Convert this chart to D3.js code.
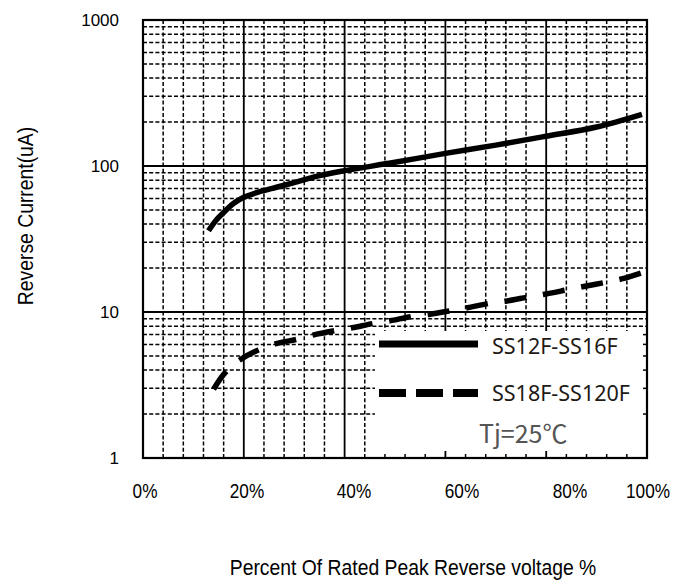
<!DOCTYPE html>
<html>
<head>
<meta charset="utf-8">
<script src="https://cdn.jsdelivr.net/npm/d3@7"></script>
<style>
    body { margin: 0; background: #fff; }
    svg { display: block; }
</style>
</head>
<body>
<svg id="chart" width="690" height="581"></svg>
<script>
// data
var xTicks = [0, 20, 40, 60, 80, 100];
var yTicks = [1, 10, 100, 1000];

// SS12F-SS16F (solid)
var solidX = [13, 14.5, 16, 18, 20, 23, 26.5, 30, 35, 40, 50, 60, 70, 80, 90, 99];
var solidY = [36, 42.5, 48, 55.5, 61, 66.5, 71.5, 77, 86, 93, 106, 122, 139, 160, 185, 226];

// SS18F-SS120F (dashed)
var dashedX = [14, 16.3, 19.2, 22.9, 26.2, 30.5, 33.7, 38.1, 41.5, 45.7, 49, 53.3, 57, 61, 65, 69, 72.2, 76.6, 80, 84.2, 87.7, 91.9, 95.4, 99.6];
var dashedY = [2.96, 3.84, 4.69, 5.5, 6.04, 6.5, 6.95, 7.45, 7.8, 8.35, 8.7, 9.3, 9.65, 10.2, 10.8, 11.5, 11.9, 12.7, 13.3, 14.2, 15, 16, 17, 18.9];

var seriesNames = ["SS12F-SS16F", "SS18F-SS120F"];
var noteText = "Tj=25\u2103";

// layout
var pLeft = 143, pRight = 647, pTop = 20, pBottom = 458;
var sans = "'Liberation Sans', Arial, sans-serif";

var svg = d3.select("#chart");

var x = d3.scaleLinear().domain([0, 100]).range([pLeft, pRight]);
var y = d3.scaleLog().domain([1, 1000]).range([pBottom, pTop]);
// the percent labels in the original drift a bit right of their grid lines
var xLabel = d3.scaleLinear().domain([0, 20, 40, 60, 80, 100]).range([145, 247, 354, 462, 570, 648]);

// minor values
var minorX = d3.range(0, 101, 4).filter(function(d) { return d % 20 != 0; });
var minorY = [];
[1, 10, 100].forEach(function(dec) {
    for (var k = 2; k <= 9; k++) minorY.push(dec * k);
});

var grid = svg.append("g");

// dashed minor grid
grid.selectAll(".vminor").data(minorX).enter().append("line")
    .attr("x1", function(d) { return x(d); }).attr("x2", function(d) { return x(d); })
    .attr("y1", pTop).attr("y2", pBottom)
    .attr("stroke", "#000").attr("stroke-width", 1.5).attr("stroke-dasharray", "4,2.2");

grid.selectAll(".hminor").data(minorY).enter().append("line")
    .attr("x1", pLeft).attr("x2", pRight)
    .attr("y1", function(d) { return y(d); }).attr("y2", function(d) { return y(d); })
    .attr("stroke", "#000").attr("stroke-width", 1.5).attr("stroke-dasharray", "4,2.2");

// solid major grid
grid.selectAll(".vmajor").data(xTicks).enter().append("line")
    .attr("x1", function(d) { return x(d); }).attr("x2", function(d) { return x(d); })
    .attr("y1", pTop).attr("y2", pBottom)
    .attr("stroke", "#000").attr("stroke-width", 1.8);

grid.selectAll(".hmajor").data(yTicks).enter().append("line")
    .attr("x1", pLeft).attr("x2", pRight)
    .attr("y1", function(d) { return y(d); }).attr("y2", function(d) { return y(d); })
    .attr("stroke", "#000").attr("stroke-width", 1.8);

// legend box hides the grid, only stubs on the axes
var boxLeft = 375, boxTop = 331;
svg.append("rect")
    .attr("x", boxLeft).attr("y", boxTop)
    .attr("width", pRight - boxLeft).attr("height", pBottom - boxTop)
    .attr("fill", "#fff");

var stubs = svg.append("g");
stubs.selectAll(".bstub").data(d3.range(48, 100, 4)).enter().append("line")
    .attr("x1", function(d) { return x(d); }).attr("x2", function(d) { return x(d); })
    .attr("y1", pBottom)
    .attr("y2", function(d) { return d % 20 == 0 ? pBottom - 7 : pBottom - 4; })
    .attr("stroke", "#000")
    .attr("stroke-width", function(d) { return d % 20 == 0 ? 1.8 : 1.5; });

stubs.selectAll(".rstub").data(minorY.filter(function(d) { return y(d) > boxTop; })).enter().append("line")
    .attr("x1", pRight).attr("x2", pRight - 4)
    .attr("y1", function(d) { return y(d); }).attr("y2", function(d) { return y(d); })
    .attr("stroke", "#000").attr("stroke-width", 1.5);

// frame
svg.append("rect")
    .attr("x", pLeft).attr("y", pTop)
    .attr("width", pRight - pLeft).attr("height", pBottom - pTop)
    .attr("fill", "none").attr("stroke", "#000").attr("stroke-width", 2.2);

// curves
var line = d3.line()
    .x(function(d) { return x(d[0]); })
    .y(function(d) { return y(d[1]); })
    .curve(d3.curveCatmullRom.alpha(0.5));

svg.append("path")
    .datum(d3.zip(solidX, solidY))
    .attr("d", line)
    .attr("fill", "none").attr("stroke", "#000").attr("stroke-width", 5.5);

svg.append("path")
    .datum(d3.zip(dashedX, dashedY))
    .attr("d", line)
    .attr("fill", "none").attr("stroke", "#000").attr("stroke-width", 5.5)
    .attr("stroke-dasharray", "22,17");

// axis labels
svg.selectAll(".ylab").data(yTicks).enter().append("text")
    .attr("x", 119)
    .attr("y", function(d) { return y(d); })
    .attr("dy", "0.35em")
    .attr("text-anchor", "end")
    .style("font-family", sans)
    .style("font-size", "17px")
    .text(function(d) { return d; });

// condensed look: squeeze Liberation Sans horizontally
svg.selectAll(".xlab").data(xTicks).enter().append("text")
    .attr("transform", function(d) { return "translate(" + xLabel(d) + ",498) scale(0.82,1)"; })
    .attr("text-anchor", "middle")
    .style("font-family", sans)
    .style("font-size", "21px")
    .text(function(d) { return d + "%"; });

svg.append("text")
    .attr("transform", "translate(413,575) scale(0.86,1)")
    .attr("text-anchor", "middle")
    .style("font-family", sans)
    .style("font-size", "22.5px")
    .text("Percent Of Rated Peak Reverse voltage %");

svg.append("text")
    .attr("transform", "translate(33,216) rotate(-90) scale(0.86,1)")
    .attr("text-anchor", "middle")
    .style("font-family", sans)
    .style("font-size", "22.5px")
    .text("Reverse Current(uA)");

// legend
var legend = svg.append("g");
legend.append("line")
    .attr("x1", 379).attr("x2", 478).attr("y1", 344).attr("y2", 344)
    .attr("stroke", "#000").attr("stroke-width", 7);
legend.append("line")
    .attr("x1", 379).attr("x2", 478).attr("y1", 393).attr("y2", 393)
    .attr("stroke", "#000").attr("stroke-width", 8)
    .attr("stroke-dasharray", "27,10");

legend.selectAll(".lt").data(seriesNames).enter().append("text")
    .attr("x", 492)
    .attr("y", function(d, i) { return 354 + i * 47; })
    .style("font-family", "'Noto Sans', 'DejaVu Sans', sans-serif")
    .style("font-size", "21.5px")
    .attr("fill", "#1e1a16")
    .text(function(d) { return d; });

legend.append("text")
    .attr("x", 479).attr("y", 443)
    .style("font-family", "'Noto Sans CJK SC', 'Noto Sans', sans-serif")
    .style("font-size", "25px")
    .attr("fill", "#555")
    .text(noteText);
</script>
</body>
</html>
